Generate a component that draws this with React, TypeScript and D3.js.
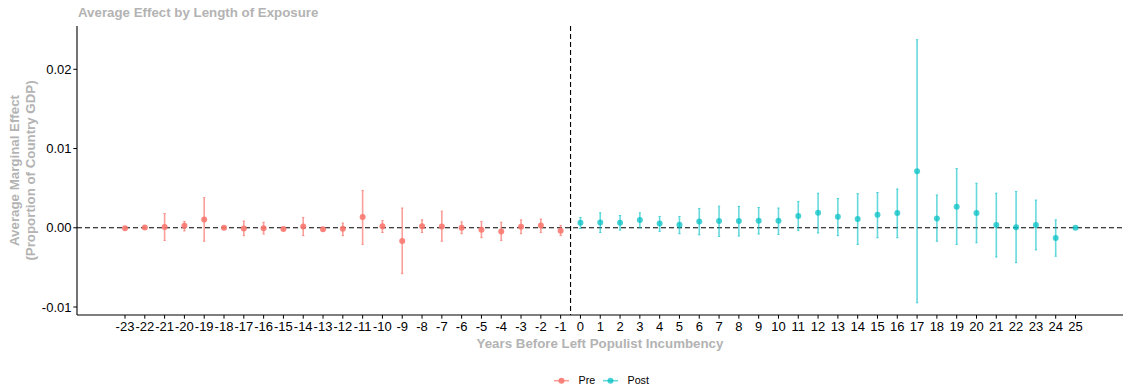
import React from "react";
import * as d3 from "d3";

const preYears = [-23, -22, -21, -20, -19, -18, -17, -16, -15, -14, -13, -12, -11, -10, -9, -8, -7, -6, -5, -4, -3, -2, -1];
const preEst = [-0.00005, 0.00002, 0.0001, 0.00025, 0.00105, 0.0, -0.0001, -0.00005, -0.00015, 0.00015, -0.0002, -0.00013, 0.00135, 0.0002, -0.00167, 0.0002, 0.00017, 0.0, -0.00025, -0.00046, 0.00013, 0.0003, -0.00038];
const preLo = [-0.00015, -0.00008, -0.0016, -0.0004, -0.0017, -0.00015, -0.001, -0.0008, -0.0003, -0.001, -0.0004, -0.001, -0.0021, -0.0006, -0.0058, -0.0006, -0.0017, -0.00075, -0.00125, -0.0016, -0.00075, -0.0006, -0.001];
const preHi = [0.00005, 0.00012, 0.0018, 0.0008, 0.0038, 0.00015, 0.00085, 0.0007, 0.0, 0.0013, 0.0, 0.0006, 0.0047, 0.0009, 0.0025, 0.001, 0.0021, 0.00075, 0.0008, 0.0007, 0.001, 0.0011, 0.0003];

const postYears = [0, 1, 2, 3, 4, 5, 6, 7, 8, 9, 10, 11, 12, 13, 14, 15, 16, 17, 18, 19, 20, 21, 22, 23, 24, 25];
const postEst = [0.00063, 0.00068, 0.00063, 0.00097, 0.00055, 0.00038, 0.0008, 0.00084, 0.00084, 0.00088, 0.00088, 0.0015, 0.0019, 0.0014, 0.0011, 0.00164, 0.00185, 0.00713, 0.00118, 0.00264, 0.00185, 0.00034, 0.00008, 0.00034, -0.0013, 0.0];
const postLo = [-0.0001, -0.0006, -0.0003, 0.0, -0.00046, -0.00075, -0.0009, -0.0011, -0.00105, -0.0008, -0.00084, -0.00033, -0.00067, -0.001, -0.0021, -0.00126, -0.00126, -0.00947, -0.00171, -0.0021, -0.0019, -0.0037, -0.0044, -0.0028, -0.0036, -0.00005];
const postHi = [0.0013, 0.0019, 0.00155, 0.0019, 0.00143, 0.00143, 0.00244, 0.00273, 0.0027, 0.00256, 0.0025, 0.0033, 0.00437, 0.0037, 0.0043, 0.00445, 0.0049, 0.02374, 0.00415, 0.00747, 0.00562, 0.00437, 0.00458, 0.0035, 0.001, 0.00005];

const yTicks = [-0.01, 0.0, 0.01, 0.02];
const xTickValues = d3.range(-23, 26);

const title = "Average Effect by Length of Exposure";
const xTitle = "Years Before Left Populist Incumbency";
const yTitle1 = "Average Marginal Effect";
const yTitle2 = "(Proportion of Country GDP)";
const legendLabels = ["Pre", "Post"];

const PRE_COLOR = "#F8766D";
const POST_COLOR = "#00BFC4";
const GREY = "#b3b3b3";
const FONT = "'Liberation Sans', Arial, Helvetica, sans-serif";

export default function App() {
  const W = 1123;
  const H = 392;
  const left = 77;
  const right = 1123;
  const top = 26;
  const bottom = 315;

  const x = d3.scaleLinear().domain([-23, 25]).range([125, 1075.5]);
  const y = d3.scaleLinear().domain([-0.01, 0.02]).range([307, 69.3]);

  const series = [
    { years: preYears, est: preEst, lo: preLo, hi: preHi, color: PRE_COLOR, pa: 0.88, ba: 0.7 },
    { years: postYears, est: postEst, lo: postLo, hi: postHi, color: POST_COLOR, pa: 0.72, ba: 0.6 },
  ];

  const cap = 1.2;

  return (
    <svg width={W} height={H} style={{ position: "absolute", left: 0, top: 0, background: "#fff" }} fontFamily={FONT}>
      <rect x={0} y={0} width={W} height={H} fill="#fff" />
      {/* reference lines */}
      <line x1={left} x2={right} y1={y(0)} y2={y(0)} stroke="#000" strokeWidth={1.1} strokeDasharray="5,3" />
      <line x1={x(-0.5)} x2={x(-0.5)} y1={top} y2={bottom} stroke="#000" strokeWidth={1.1} strokeDasharray="5,3" />

      {/* error bars and points */}
      {series.map((s, si) => (
        <g key={si}>
          {s.years.map((yr, i) => {
            const cx = x(yr);
            return (
              <g key={yr}>
                <line x1={cx} x2={cx} y1={y(s.lo[i])} y2={y(s.hi[i])} stroke={s.color} strokeOpacity={s.ba} strokeWidth={1.6} />
                <line x1={cx - cap} x2={cx + cap} y1={y(s.lo[i])} y2={y(s.lo[i])} stroke={s.color} strokeOpacity={s.ba} strokeWidth={1} />
                <line x1={cx - cap} x2={cx + cap} y1={y(s.hi[i])} y2={y(s.hi[i])} stroke={s.color} strokeOpacity={s.ba} strokeWidth={1} />
                <circle cx={cx} cy={y(s.est[i])} r={3} fill={s.color} fillOpacity={s.pa} />
              </g>
            );
          })}
        </g>
      ))}

      {/* axes */}
      <line x1={left} x2={left} y1={top} y2={bottom} stroke="#000" strokeWidth={1.1} />
      <line x1={left} x2={right} y1={bottom} y2={bottom} stroke="#000" strokeWidth={1.1} />
      {yTicks.map((t) => (
        <g key={t}>
          <line x1={left - 3.7} x2={left} y1={y(t)} y2={y(t)} stroke="#000" strokeWidth={1} />
          <text x={left - 5.5} y={y(t)} dy="0.35em" textAnchor="end" fontSize={13} fill="#000">
            {d3.format(".2f")(t).replace("−", "-")}
          </text>
        </g>
      ))}
      {xTickValues.map((t) => (
        <g key={t}>
          <line x1={x(t)} x2={x(t)} y1={bottom} y2={bottom + 3.7} stroke="#000" strokeWidth={1} />
          <text x={x(t)} y={bottom + 16} textAnchor="middle" fontSize={13} fill="#000">
            {String(t)}
          </text>
        </g>
      ))}

      {/* titles */}
      <text x={78} y={17} fontSize={13.3} fontWeight="bold" fill={GREY}>
        {title}
      </text>
      <text x={(left + right) / 2} y={348} textAnchor="middle" fontSize={13.3} fontWeight="bold" fill={GREY}>
        {xTitle}
      </text>
      <g transform={`translate(0, ${(top + bottom) / 2}) rotate(-90)`}>
        <text x={0} y={19} textAnchor="middle" fontSize={13.3} fontWeight="bold" fill={GREY}>
          {yTitle1}
        </text>
        <text x={0} y={35} textAnchor="middle" fontSize={13.3} fontWeight="bold" fill={GREY}>
          {yTitle2}
        </text>
      </g>

      {/* legend */}
      {legendLabels.map((lab, i) => {
        const kx = i === 0 ? 554 : 603;
        const s = series[i];
        const ly = 380.7;
        return (
          <g key={lab}>
            <line x1={kx} x2={kx + 15} y1={ly} y2={ly} stroke={s.color} strokeOpacity={s.ba} strokeWidth={1.6} />
            <circle cx={kx + 7.5} cy={ly} r={3} fill={s.color} fillOpacity={s.pa} />
            <text x={kx + 24.5} y={ly} dy="0.35em" fontSize={10.7} fill="#000">
              {lab}
            </text>
          </g>
        );
      })}
    </svg>
  );
}
